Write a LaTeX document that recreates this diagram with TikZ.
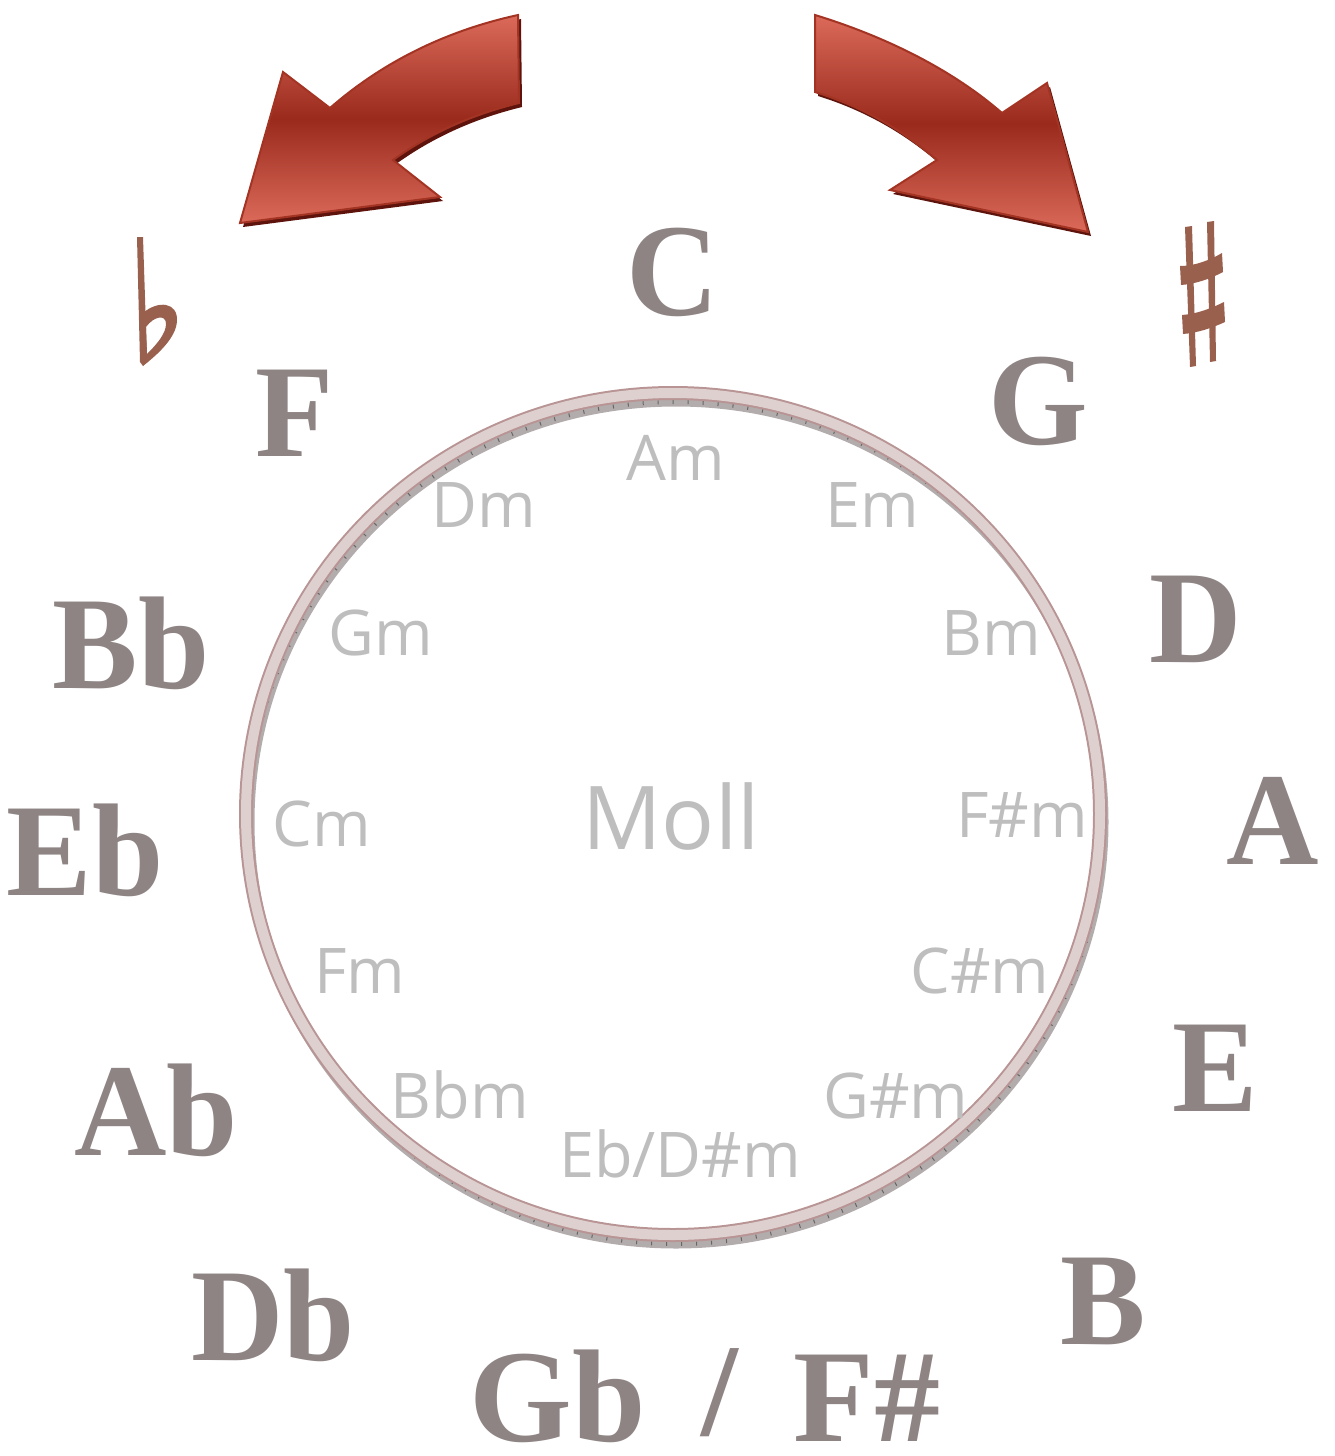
\documentclass[tikz,border=0pt]{standalone}
\usepackage{fontspec}
\setmainfont{Liberation Serif}
\newfontfamily\minorfont{Open Sans}
\usetikzlibrary{calc}

\definecolor{majorgray}{HTML}{8E8484}
\definecolor{minorgray}{HTML}{BEBEBE}
\definecolor{arrowlight}{HTML}{DB6A5A}
\definecolor{arrowdark}{HTML}{9A2A1C}
\definecolor{arrowedge}{HTML}{A33424}
\definecolor{arrowshadow}{HTML}{5E140C}
\definecolor{accidental}{HTML}{9A604E}
\definecolor{ringedge}{HTML}{B89494}
\definecolor{ringband}{HTML}{DFD0D0}
\definecolor{ringside}{HTML}{B3ACAC}

\tikzset{
  majorkey/.style={anchor=base, text=majorgray,
    font=\fontsize{66}{70}\selectfont\bfseries, inner sep=0pt},
  minorkey/.style={anchor=base, text=minorgray,
    font=\minorfont\fontsize{31.5}{34}\selectfont, inner sep=0pt},
  bigarrow/.style={draw=arrowedge, line width=1pt, line join=miter,
    top color=arrowlight, bottom color=arrowlight, middle color=arrowdark},
  arrowshade/.style={fill=arrowshadow},
}
\newcommand{\nar}[1]{\scalebox{0.97}[1]{#1}}

\begin{document}
\begin{tikzpicture}[x=0.5pt, y=-0.5pt]
\useasboundingbox (0,0) rectangle (1334,1456);

% ---- curved arrows: flats (left) and sharps (right) ----
\def\leftarrowpath{(518,15) .. controls (440,32) and (378,66) .. (330,108)
  -- (283,72) -- (240,223) -- (440,197) -- (393,160)
  .. controls (432,132) and (474,114) .. (519,103) -- cycle}
\def\rightarrowpath{(815,15) .. controls (890,38) and (955,72) .. (1002,113)
  -- (1047,83) -- (1088,232) -- (890,190) -- (937,160)
  .. controls (900,128) and (860,106) .. (815,92) -- cycle}
\fill[arrowshade, shift={(3,4)}] \leftarrowpath;
\path[bigarrow] \leftarrowpath;
\fill[arrowshade, shift={(3,4)}] \rightarrowpath;
\path[bigarrow] \rightarrowpath;

% ---- flat sign ----
\fill[accidental] (137,237) -- (143,237) -- (147,358) -- (143,366) -- (140,362) -- cycle;
\fill[accidental, even odd rule]
  (143,313) .. controls (158,300) and (178,302) .. (177,321)
  .. controls (176,338) and (158,354) .. (143,366) -- cycle
  (146,327) .. controls (154,316) and (166,314) .. (166,324)
  .. controls (166,334) and (156,345) .. (147,354) -- cycle;

% ---- sharp sign ----
\fill[accidental] (1185,227) -- (1192,226) -- (1196,366) -- (1190,367) -- cycle;
\fill[accidental] (1207,222) -- (1214,221) -- (1216,361) -- (1210,362) -- cycle;
\fill[accidental] (1180,266) .. controls (1195,266) and (1210,260) .. (1222,253)
  -- (1223,272) .. controls (1210,279) and (1195,284) .. (1181,285) -- cycle;
\fill[accidental] (1182,315) .. controls (1197,314) and (1212,308) .. (1224,302)
  -- (1225,322) .. controls (1212,328) and (1197,333) .. (1183,334) -- cycle;

% ---- ring: side face, ticks, then the top band ----
\coordinate (ringc) at (673,814);
\draw[ringside, line width=5.5pt] ($(ringc)+(3,8)$) ellipse [x radius=427, y radius=421];
\draw[black!60, line width=2pt, dash pattern=on 0.5pt off 7pt]
  ($(ringc)+(3,9)$) ellipse [x radius=427, y radius=421];
\draw[ringedge, line width=7pt] (ringc) ellipse [x radius=427, y radius=421];
\draw[ringband, line width=5pt] (ringc) ellipse [x radius=427, y radius=421];

% ---- major keys ----
\node[majorkey] (kC)  at (673,315)  {\nar{C}};
\node[majorkey] (kG)  at (1038,444) {\nar{G}};
\node[majorkey] (kD)  at (1196,662) {\nar{D}};
\node[majorkey] (kA)  at (1273,864) {\nar{A}};
\node[majorkey] (kE)  at (1215,1111) {\nar{E}};
\node[majorkey] (kB)  at (1103,1344) {\nar{B}};
\node[majorkey] (kGb) at (705,1441)
  {Gb\hspace{0.42em}\raisebox{3pt}{/}\hspace{0.42em}F\#};
\node[majorkey] (kDb) at (273,1360) {\nar{Db}};
\node[majorkey] (kAb) at (156,1155) {\nar{Ab}};
\node[majorkey] (kEb) at (85,895)   {\nar{Eb}};
\node[majorkey] (kBb) at (131,688)  {\nar{Bb}};
\node[majorkey] (kF)  at (295,456)  {\nar{F}};

% ---- minor keys ----
\node[minorkey] (mA)  at (676,480)  {Am};
\node[minorkey] (mE)  at (872,527)  {Em};
\node[minorkey] (mB)  at (991,655)  {Bm};
\node[minorkey] (mFs) at (1022,837) {F\#m};
\node[minorkey] (mCs) at (980,993)  {C\#m};
\node[minorkey] (mGs) at (896,1118) {G\#m};
\node[minorkey] (mEb) at (680,1177) {Eb/D\#m};
\node[minorkey] (mBb) at (460,1118) {Bbm};
\node[minorkey] (mF)  at (360,993)  {Fm};
\node[minorkey] (mC)  at (322,846)  {Cm};
\node[minorkey] (mG)  at (381,655)  {Gm};
\node[minorkey] (mD)  at (484,527)  {Dm};
\node[anchor=base, text=minorgray, inner sep=0pt,
  font=\minorfont\fontsize{44}{48}\selectfont] (moll) at (671,849) {Moll};
\end{tikzpicture}
\end{document}
